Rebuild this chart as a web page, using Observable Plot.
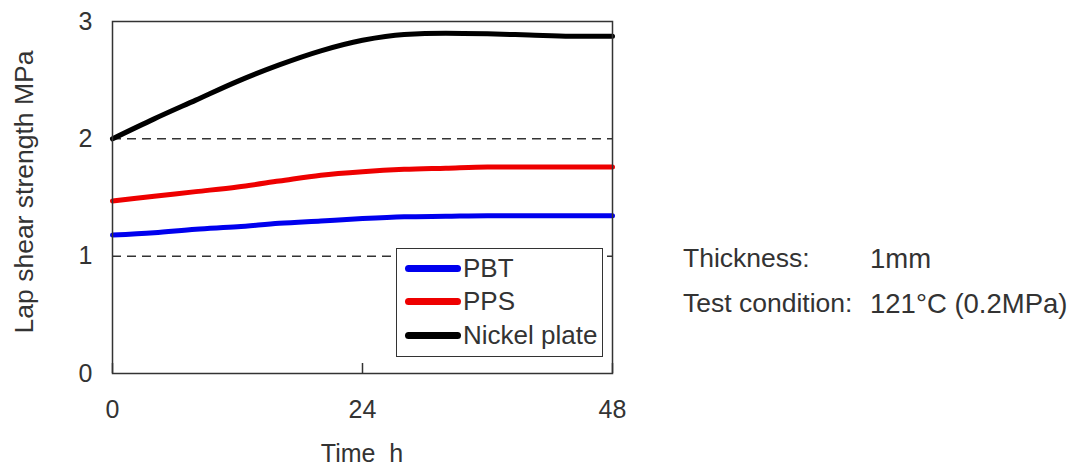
<!DOCTYPE html>
<html>
<head>
<meta charset="utf-8">
<script src="https://cdn.jsdelivr.net/npm/d3@7"></script>
<script src="https://cdn.jsdelivr.net/npm/@observablehq/plot@0.6"></script>
<style>
  html, body { margin: 0; padding: 0; background: #fff; }
  #wrap { position: relative; width: 1083px; height: 467px; font-family: "Liberation Sans", Arial, sans-serif; color: #333; overflow: hidden; }
  #wrap svg { position: absolute; left: 0; top: 0; }
  .lbl { position: absolute; white-space: pre; font-size: 25px; line-height: 1; }
  #legend { position: absolute; left: 396px; top: 248px; width: 207px; height: 109px; border: 1.5px solid #333; background: #fff; box-sizing: border-box; }
  .lg { position: absolute; left: 8px; height: 34px; display: flex; align-items: center; font-size: 26px; }
  .lg span.sw { display: inline-block; width: 56px; height: 7px; border-radius: 4px; margin-right: 2px; }
</style>
</head>
<body>
<div id="wrap"></div>
<script>
const hours = [0, 4, 8, 12, 16, 20, 24, 28, 32, 36, 40, 44, 48];
const pbt = [1.18, 1.20, 1.23, 1.25, 1.28, 1.30, 1.32, 1.335, 1.34, 1.345, 1.345, 1.345, 1.345];
const pps = [1.47, 1.51, 1.55, 1.59, 1.64, 1.69, 1.72, 1.74, 1.75, 1.76, 1.76, 1.76, 1.76];
const nickel = [2.00, 2.17, 2.33, 2.49, 2.63, 2.75, 2.84, 2.89, 2.90, 2.895, 2.885, 2.875, 2.875];
const seriesNames = ["PBT", "PPS", "Nickel plate"];
const seriesColors = ["#0000ee", "#ee0000", "#000000"];
const xTicks = [0, 24, 48];
const yTicks = [0, 1, 2, 3];
const refLines = [1, 2];
const notes = [["Thickness:", "1mm"], ["Test condition:", "121°C (0.2MPa)"]];
const xLabel = "Time  h";
const yLabel = "Lap shear strength MPa";

const seriesValues = [pbt, pps, nickel];
const data = [];
seriesNames.forEach((s, i) => hours.forEach((h, j) => data.push({series: s, time: h, value: seriesValues[i][j]})));

const chart = Plot.plot({
  width: 1083,
  height: 467,
  marginLeft: 112,
  marginRight: 471,
  marginTop: 21,
  marginBottom: 94,
  style: {fontFamily: "'Liberation Sans', Arial, sans-serif", fontSize: "25px", color: "#333", background: "white"},
  x: {domain: [0, 48], ticks: xTicks, label: null},
  y: {domain: [0, 3], ticks: yTicks, label: null},
  color: {domain: seriesNames, range: seriesColors},
  marks: [
    Plot.ruleY(refLines, {stroke: "#333", strokeWidth: 1.5, strokeDasharray: "9,6"}),
    Plot.line(data, {x: "time", y: "value", z: "series", stroke: "series", strokeWidth: 5, curve: "monotone-x"}),
    Plot.tickX(xTicks, {x: d => d, insetTop: 342, stroke: "#333", strokeWidth: 1.5}),
    Plot.frame({stroke: "#333", strokeWidth: 1.5}),
    Plot.axisY(yTicks, {tickSize: 0, tickPadding: 20, fontSize: 25, fill: "#333", tickFormat: d3.format("d")}),
    Plot.axisX(xTicks, {tickSize: 0, tickPadding: 27, fontSize: 25, fill: "#333", tickFormat: d3.format("d")})
  ]
});

const wrap = document.getElementById("wrap");
wrap.appendChild(chart);

// axis titles
const xl = document.createElement("div");
xl.className = "lbl";
xl.textContent = xLabel;
xl.style.left = "362px"; xl.style.top = "441px"; xl.style.transform = "translateX(-50%)";
wrap.appendChild(xl);

const yl = document.createElement("div");
yl.className = "lbl";
yl.textContent = yLabel;
yl.style.fontSize = "26.5px";
yl.style.left = "24px"; yl.style.top = "192px"; yl.style.transform = "translate(-50%,-50%) rotate(-90deg)";
wrap.appendChild(yl);

// legend
const lg = document.createElement("div");
lg.id = "legend";
seriesNames.forEach((s, i) => {
  const row = document.createElement("div");
  row.className = "lg";
  row.style.top = (2 + i * 33.5) + "px";
  const sw = document.createElement("span");
  sw.className = "sw";
  sw.style.background = seriesColors[i];
  row.appendChild(sw);
  row.appendChild(document.createTextNode(s));
  lg.appendChild(row);
});
wrap.appendChild(lg);

// notes
notes.forEach((n, i) => {
  const a = document.createElement("div");
  a.className = "lbl"; a.textContent = n[0];
  a.style.left = "683px"; a.style.top = (245 + i * 45) + "px"; a.style.fontSize = "26.5px";
  wrap.appendChild(a);
  const b = document.createElement("div");
  b.className = "lbl"; b.textContent = n[1];
  b.style.left = "870px"; b.style.top = (245 + i * 45) + "px"; b.style.fontSize = "27.5px";
  wrap.appendChild(b);
});
</script>
</body>
</html>
